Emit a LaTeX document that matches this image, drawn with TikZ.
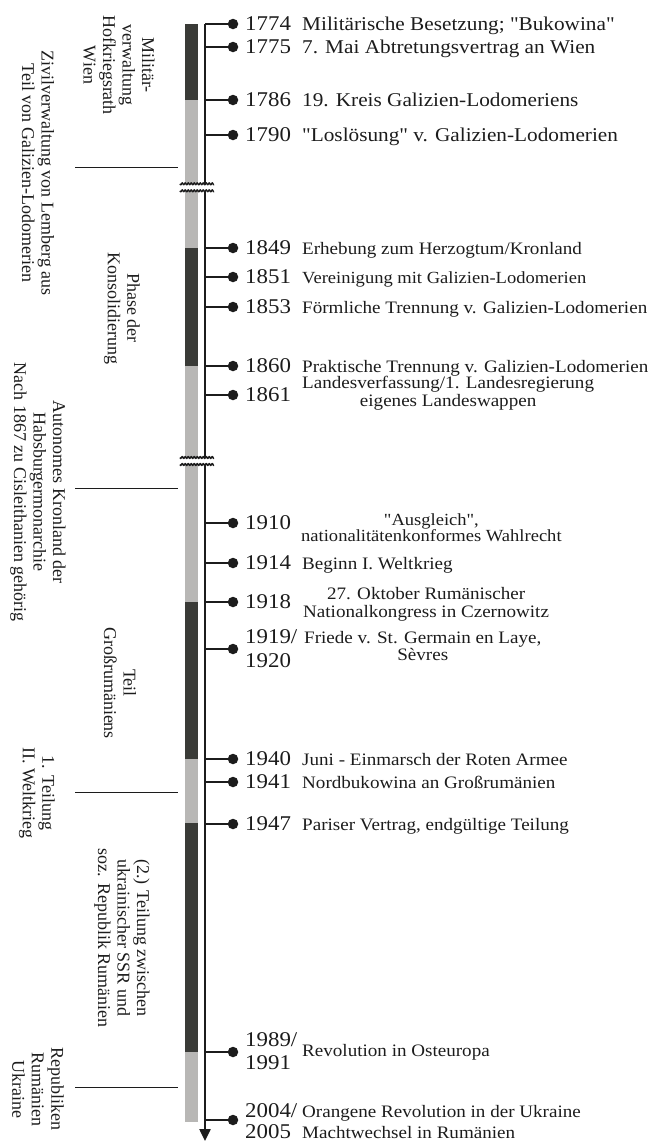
\documentclass[tikz,border=0pt]{standalone}
\usepackage{fontspec}
\newfontfamily\wideserif{Liberation Serif}[FakeStretch=1.09]
\newfontfamily\rotserif{Liberation Serif}
\usetikzlibrary{arrows.meta}
\definecolor{barDark}{HTML}{3A3B37}
\definecolor{barLight}{HTML}{B8B7B5}
\definecolor{ink}{HTML}{1C1C1C}
\newcommand{\tlevent}[2]{%
  \coordinate (a#1) at (205,#2);
  \node[dotn] (d#1) at (233,#2) {};
  \draw[tickl] (a#1) -- (d#1.center);}
\begin{document}
\begin{tikzpicture}[x=1pt,y=-1pt,
  dotn/.style={circle,fill=ink,inner sep=0pt,minimum size=10.5pt},
  tickl/.style={draw=ink,line width=2pt},
  axisl/.style={draw=ink,line width=2.4pt},
  sepl/.style={draw=ink,line width=0.9pt},
  brk/.style={draw=ink,line width=1.4pt},
  yr/.style={anchor=base west,inner sep=0pt,text=ink,font=\wideserif\fontsize{21}{24}\selectfont},
  ds/.style={anchor=base west,inner sep=0pt,text=ink,font=\wideserif\fontsize{17.5}{18}\selectfont},
  dsbig/.style={ds,font=\wideserif\fontsize{19.5}{20}\selectfont},
  lt/.style={rotate=-90,align=center,inner sep=0pt,text=ink,font=\rotserif\fontsize{18}{19.5}\selectfont}]
\useasboundingbox (0,0) rectangle (653,1141);
% bar segments
\fill[barDark]  (185,24)  rectangle (198,100);
\fill[barLight] (185,100) rectangle (198,248);
\fill[barDark]  (185,248) rectangle (198,366);
\fill[barLight] (185,366) rectangle (198,602);
\fill[barDark]  (185,602) rectangle (198,759);
\fill[barLight] (185,759) rectangle (198,823);
\fill[barDark]  (185,823) rectangle (198,1052);
\fill[barLight] (185,1052) rectangle (198,1122);
% axis
\coordinate (top) at (205,24);
\coordinate (bot) at (205,1141);
\draw[axisl,-{Triangle[width=11pt,length=12pt]}] (top) -- (bot);
% breaks
\fill[white] (180,184) rectangle (215,190.5);
\draw[brk] plot[domain=0:34,samples=120] ({\x+180},{183.8+0.9*sin(\x*120)});
\draw[brk] plot[domain=0:34,samples=120] ({\x+180},{190.8+0.9*sin(\x*120)});
\fill[white] (180,458) rectangle (215,464);
\draw[brk] plot[domain=0:34,samples=120] ({\x+180},{457.5+0.9*sin(\x*120)});
\draw[brk] plot[domain=0:34,samples=120] ({\x+180},{464.5+0.9*sin(\x*120)});
% separators
\coordinate (s1a) at (75,167);  \coordinate (s1b) at (178,167);
\coordinate (s2a) at (75,488);  \coordinate (s2b) at (178,488);
\coordinate (s3a) at (75,792);  \coordinate (s3b) at (178,792);
\coordinate (s4a) at (75,1087); \coordinate (s4b) at (178,1087);
\draw[sepl] (s1a) -- (s1b);
\draw[sepl] (s2a) -- (s2b);
\draw[sepl] (s3a) -- (s3b);
\draw[sepl] (s4a) -- (s4b);
% events
\node[dotn] (d1774) at (233,24) {};
\draw[tickl] (top) -- (d1774.center);
\tlevent{1775}{47}
\tlevent{1786}{100}
\tlevent{1790}{135}
\tlevent{1849}{248}
\tlevent{1851}{277}
\tlevent{1853}{307}
\tlevent{1860}{366}
\tlevent{1861}{395}
\tlevent{1910}{523}
\tlevent{1914}{563}
\tlevent{1918}{602}
\tlevent{1919}{649}
\tlevent{1940}{759}
\tlevent{1941}{782}
\tlevent{1947}{824}
\tlevent{1989}{1052}
\tlevent{2004}{1120}
% years
\node[yr] (y1774) at (245,30.5) {1774};
\node[yr] (y1775) at (245,53.5) {1775};
\node[yr] (y1786) at (245,106.5) {1786};
\node[yr] (y1790) at (245,141.5) {1790};
\node[yr] (y1849) at (245,254.5) {1849};
\node[yr] (y1851) at (245,283.5) {1851};
\node[yr] (y1853) at (245,313.5) {1853};
\node[yr] (y1860) at (245,372.5) {1860};
\node[yr] (y1861) at (245,401.5) {1861};
\node[yr] (y1910) at (245,529.5) {1910};
\node[yr] (y1914) at (245,569.5) {1914};
\node[yr] (y1918) at (245,608.5) {1918};
\node[yr] (y1919) at (245,643) {\begin{tabular}[t]{@{}l@{}}1919/\\1920\end{tabular}};
\node[yr] (y1940) at (245,765.5) {1940};
\node[yr] (y1941) at (245,788.5) {1941};
\node[yr] (y1947) at (245,830.5) {1947};
\node[yr,font=\wideserif\fontsize{21}{23}\selectfont] (y1989) at (245,1046) {\begin{tabular}[t]{@{}l@{}}1989/\\1991\end{tabular}};
\node[yr,font=\wideserif\fontsize{21}{21}\selectfont] (y2004) at (245,1117) {\begin{tabular}[t]{@{}l@{}}2004/\\2005\end{tabular}};
% descriptions
\node[dsbig] (t1774) at (302,30.5) {Militärische Besetzung; "Bukowina"};
\node[dsbig] (t1775) at (302,53.5) {7. Mai Abtretungsvertrag an Wien};
\node[dsbig] (t1786) at (302,106.5) {19. Kreis Galizien-Lodomeriens};
\node[dsbig] (t1790) at (302,141.5) {"Loslösung" v. Galizien-Lodomerien};
\node[ds] (t1849) at (302,254.5) {Erhebung zum Herzogtum/Kronland};
\node[ds,font=\wideserif\fontsize{17}{18}\selectfont] (t1851) at (302,283.5) {Vereinigung mit Galizien-Lodomerien};
\node[ds] (t1853) at (302,313.5) {Förmliche Trennung v. Galizien-Lodomerien};
\node[ds] (t1860) at (302,372.5) {Praktische Trennung v. Galizien-Lodomerien};
\node[ds] (t1861) at (302,388) {\begin{tabular}[t]{@{}c@{}}Landesverfassung/1. Landesregierung\\eigenes Landeswappen\end{tabular}};
\node[ds,font=\wideserif\fontsize{17}{14.5}\selectfont] (t1910) at (301,525) {\begin{tabular}[t]{@{}c@{}}"Ausgleich",\\nationalitätenkonformes Wahlrecht\end{tabular}};
\node[ds] (t1914) at (302,569.5) {Beginn I. Weltkrieg};
\node[ds] (t1918) at (303,599) {\begin{tabular}[t]{@{}c@{}}27. Oktober Rumänischer\\Nationalkongress in Czernowitz\end{tabular}};
\node[ds,font=\wideserif\fontsize{17.5}{17}\selectfont] (t1919) at (304,643) {\begin{tabular}[t]{@{}c@{}}Friede v. St. Germain en Laye,\\Sèvres\end{tabular}};
\node[ds] (t1940) at (302,765.5) {Juni - Einmarsch der Roten Armee};
\node[ds] (t1941) at (302,788.5) {Nordbukowina an Großrumänien};
\node[ds] (t1947) at (302,830.5) {Pariser Vertrag, endgültige Teilung};
\node[ds] (t1989) at (302,1056) {Revolution in Osteuropa};
\node[ds,font=\wideserif\fontsize{17.5}{21}\selectfont] (t2004) at (302,1117) {\begin{tabular}[t]{@{}l@{}}Orangene Revolution in der Ukraine\\Machtwechsel in Rumänien\end{tabular}};
% left rotated labels
\node[lt] (l1) at (119,65) {Militär-\\verwaltung\\Hofkriegsrath\\Wien};
\node[lt] (l2) at (38,173) {Zivilverwaltung von Lemberg aus\\Teil von Galizien-Lodomerien};
\node[lt] (l3) at (122,308) {Phase der\\Konsolidierung};
\node[lt] (l4) at (38,492) {Autonomes Kronland der\\Habsburgermonarchie\\Nach 1867 zu Cisleithanien gehörig};
\node[lt] (l5) at (120,683) {Teil\\Großrumäniens};
\node[lt] (l6) at (37,793) {1. Teilung\\II. Weltkrieg};
\node[lt] (l7) at (122,938) {(2.) Teilung zwischen\\ukrainischer SSR und\\soz. Republik Rumänien};
\node[lt] (l8) at (38,1089) {Republiken\\Rumänien\\Ukraine};
\end{tikzpicture}
\end{document}
